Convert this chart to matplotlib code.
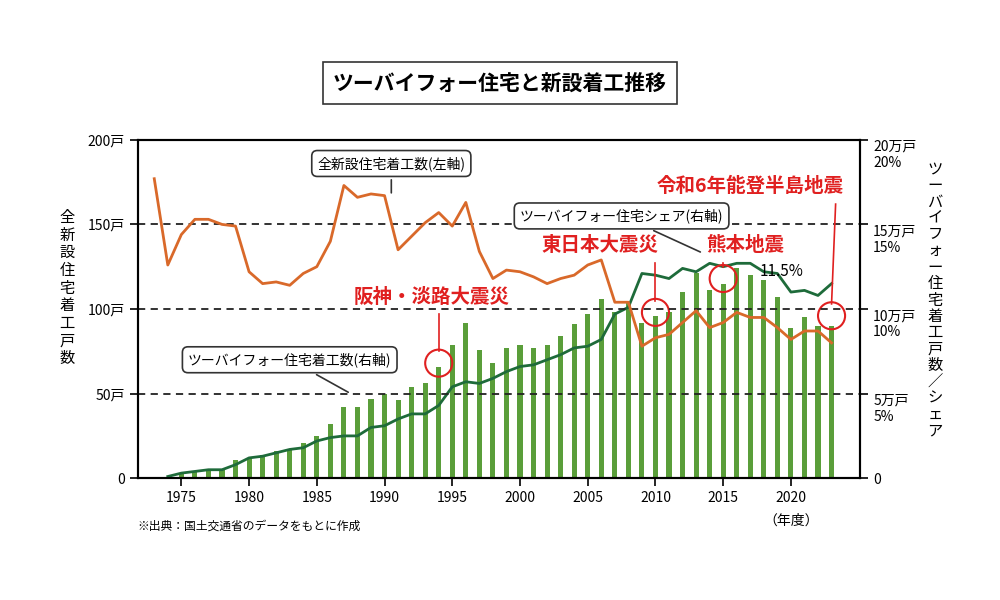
import numpy as np
import matplotlib.pyplot as plt

plt.rcParams['font.family'] = ['Noto Sans CJK JP', 'DejaVu Sans']

# 全新設住宅着工数（万戸, 左軸）
years_all = list(range(1973, 2024))
starts_all = [177, 126, 144, 153, 153, 150, 149, 122, 115, 116, 114, 121, 125, 140,
              173, 166, 168, 167, 135, 143, 151, 157, 149, 163, 134, 118, 123, 122,
              119, 115, 118, 120, 126, 129, 104, 104, 78, 83, 85, 92, 99, 89, 92,
              98, 95, 95, 89, 82, 87, 87, 80]

# ツーバイフォー住宅着工数（万戸, 右軸）
years_bar = list(range(1975, 2024))
starts_2x4 = [0.3, 0.4, 0.5, 0.5, 1.1, 1.2, 1.4, 1.6, 1.7, 2.1, 2.5, 3.2, 4.2, 4.2,
              4.7, 5.0, 4.6, 5.4, 5.6, 6.6, 7.9, 9.2, 7.6, 6.8, 7.7, 7.9, 7.7, 7.9,
              8.4, 9.1, 9.7, 10.6, 9.8, 10.4, 9.2, 9.6, 9.8, 11.0, 12.1, 11.1, 11.5,
              12.4, 12.0, 11.7, 10.7, 8.9, 9.5, 9.0, 9.0]

# ツーバイフォー住宅シェア（%, 右軸）
years_share = list(range(1974, 2024))
share = [0.1, 0.3, 0.4, 0.5, 0.5, 0.8, 1.2, 1.3, 1.5, 1.7, 1.8, 2.2, 2.4, 2.5, 2.5,
         3.0, 3.1, 3.5, 3.8, 3.8, 4.3, 5.4, 5.7, 5.6, 5.9, 6.3, 6.6, 6.7, 7.0, 7.3,
         7.7, 7.8, 8.2, 9.7, 10.1, 12.1, 12.0, 11.8, 12.4, 12.2, 12.7, 12.5, 12.7,
         12.7, 12.2, 12.1, 11.0, 11.1, 10.8, 11.5]

quake_years = [1994, 2010, 2015, 2023]
quake_names = ['阪神・淡路大震災', '東日本大震災', '熊本地震', '令和6年能登半島地震']
quake_circle_y = [6.8, 9.8, 11.8, 9.6]

fig = plt.figure(figsize=(10, 6), dpi=100)
ax = fig.add_axes([0.138, 0.203, 0.722, 0.564])
ax2 = ax.twinx()

ax2.bar(years_bar, starts_2x4, width=0.38, color='#5a9e3a', zorder=2)
ax2.plot(years_share, share, color='#1e6b3a', lw=2, zorder=3)
ax.plot(years_all, starts_all, color='#d9692a', lw=2, zorder=3)
ax.set_zorder(ax2.get_zorder() + 1)
ax.patch.set_visible(False)

ax.set_xlim(1971.8, 2025.1)
ax.set_ylim(0, 200)
ax2.set_ylim(0, 20)
for v in [50, 100, 150]:
    ax.axhline(v, color='#222', ls=(0, (4, 3)), lw=1.3, zorder=1)

ax.set_yticks([0, 50, 100, 150, 200])
ax.set_yticklabels(['0', '50戸', '100戸', '150戸', '200戸'], fontsize=10)
ax2.set_yticks([0, 5, 10, 15, 20])
ax2.set_yticklabels(['0', '5万戸\n5%', '10万戸\n10%', '15万戸\n15%', '20万戸\n20%'],
                    fontsize=10, linespacing=1.2)
for lab in ax2.get_yticklabels()[1:]:
    lab.set_va('top')
    lab.set_y(lab.get_position()[1])
from matplotlib.transforms import ScaledTranslation
for lab in ax2.get_yticklabels()[1:]:
    lab.set_transform(lab.get_transform() + ScaledTranslation(0, 0.1, fig.dpi_scale_trans))
ax.set_xticks(range(1975, 2021, 5))
ax.set_xticklabels([str(y) for y in range(1975, 2021, 5)], fontsize=10)
ax.text(2020, -21, '（年度）', ha='center', va='top', fontsize=10)
for a in (ax, ax2):
    for s in a.spines.values():
        s.set_linewidth(1.5)
    a.tick_params(length=6, width=1.2)

# 縦書きラベル
fig.text(0.067, 0.52, '\n'.join('全新設住宅着工戸数'), ha='center', va='center',
         fontsize=11, linespacing=1.05)
fig.text(0.935, 0.5, '\n'.join('ツーバイフォー住宅着工戸数／シェア'), ha='center',
         va='center', fontsize=11, linespacing=0.95)

# 吹き出し
bubble = dict(boxstyle='round,pad=0.4', fc='white', ec='#333', lw=1.2)
arrow = dict(arrowstyle='-', color='#333', lw=1.2)
ax.annotate('全新設住宅着工数(左軸)', xy=(1990.5, 167), xytext=(1990.5, 186),
            ha='center', va='center', fontsize=10, bbox=bubble, arrowprops=arrow)
ax.annotate('ツーバイフォー住宅シェア(右軸)', xy=(2013.5, 133), xytext=(2007.5, 155),
            ha='center', va='center', fontsize=10, bbox=bubble, arrowprops=arrow)
ax.annotate('ツーバイフォー住宅着工数(右軸)', xy=(1987.5, 50), xytext=(1983, 70),
            ha='center', va='center', fontsize=10, bbox=bubble, arrowprops=arrow)
ax.text(2019.3, 122, '11.5%', fontsize=11, ha='center', va='center')

# 地震
label_pos = [(1993.5, 101), (2005.9, 132), (2016.6, 132), (2017.0, 167)]
line_top = [100, 130, 130, 165]
for yr, name, cy, (lx, ly), lt in zip(quake_years, quake_names, quake_circle_y,
                                      label_pos, line_top):
    ax2.scatter([yr], [cy], s=380, facecolors='none', edgecolors='#e02020', lw=1.5, zorder=5)
    ax.text(lx, ly, name, color='#e02020', fontsize=14, fontweight='bold',
            ha='center', va='bottom')
    ax.plot([yr + (0.3 if yr == 2023 else 0), yr], [lt - 3, cy * 10 + 7],
            color='#e02020', lw=1.2, zorder=5)

# タイトル
fig.text(0.5, 0.862, 'ツーバイフォー住宅と新設着工推移', ha='center', va='center',
         fontsize=15, fontweight='bold',
         bbox=dict(boxstyle='square,pad=0.5', fc='white', ec='#333', lw=1.2))
fig.text(0.137, 0.117, '※出典：国土交通省のデータをもとに作成', fontsize=8.5)

fig.savefig('out.png', dpi=100)
